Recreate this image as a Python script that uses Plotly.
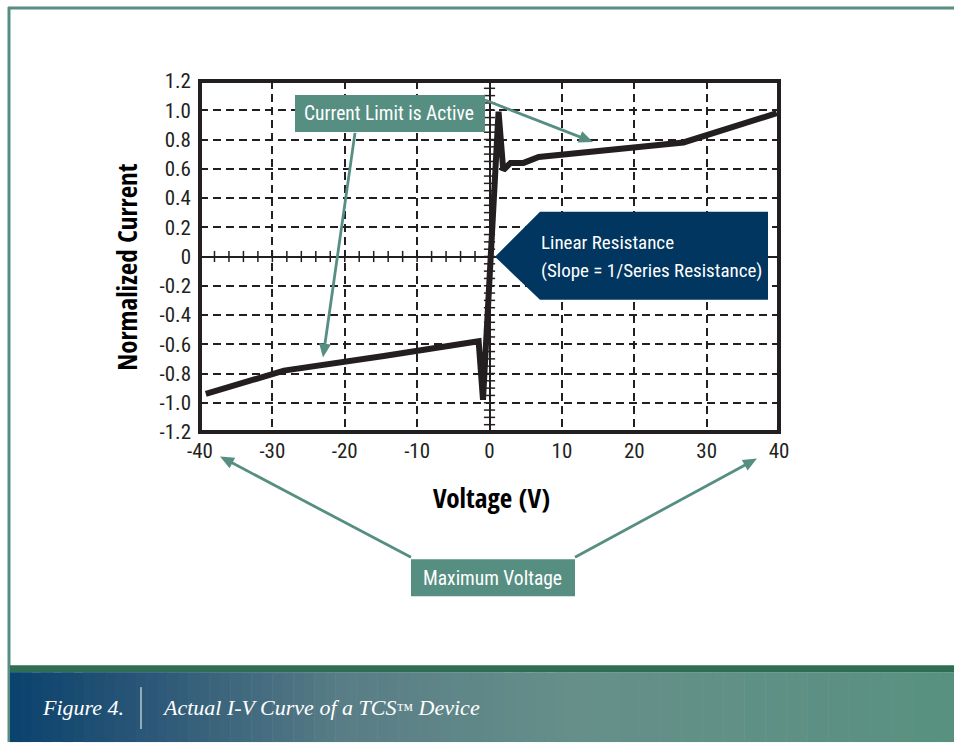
import math
import numpy as np
import plotly.graph_objects as go

# ---- data ----
voltage = [-39.2, -28.4, -14.6, -1.5, -0.9, 1.25, 1.9, 2.9, 4.7, 6.8, 26.8, 39.7]
current = [-0.94, -0.78, -0.68, -0.58, -0.98, 0.99, 0.59, 0.64, 0.64, 0.68, 0.78, 0.98]

x_ticks = [-40, -30, -20, -10, 0, 10, 20, 30, 40]
x_tick_text = ["-40", "-30", "-20", "-10", "0", "10", "20", "30", "40"]
y_ticks = [1.2, 1.0, 0.8, 0.6, 0.4, 0.2, 0, -0.2, -0.4, -0.6, -0.8, -1.0, -1.2]
y_tick_text = ["1.2", "1.0", "0.8", "0.6", "0.4", "0.2", "0", "-0.2", "-0.4", "-0.6", "-0.8", "-1.0", "-1.2"]

# ---- layout geometry (pixels) ----
W, H = 954, 743
L, R, T, B = 200, 779, 81, 432.5


def px(x):
    return (x - L) / (R - L)


def py(y):
    return (B - y) / (B - T)


INK = "#231f20"
TEAL = "#568f82"
NAVY = "#003660"
NARROW = "Roboto Condensed, Liberation Sans Narrow, DejaVu Sans Condensed, sans-serif"
BOLDC = "Open Sans Condensed, Roboto Condensed, sans-serif"
SERIF = "Liberation Serif, DejaVu Serif, serif"

fig = go.Figure()

# minor tick marks along the zero lines (axis decoration)
hx = np.arange(-40, 40.01, 2)
fig.add_trace(go.Scatter(x=hx, y=np.zeros_like(hx), mode="markers",
                         marker=dict(symbol="line-ns", size=8, color=INK, line=dict(width=1.5, color=INK)),
                         hoverinfo="skip", showlegend=False))
vy = np.arange(-1.2, 1.2001, 0.05)
fig.add_trace(go.Scatter(x=np.zeros_like(vy), y=vy, mode="markers",
                         marker=dict(symbol="line-ew", size=8, color=INK, line=dict(width=1.5, color=INK)),
                         hoverinfo="skip", showlegend=False))

# the I-V curve
fig.add_trace(go.Scatter(x=voltage, y=current, mode="lines",
                         line=dict(color=INK, width=6), showlegend=False, hoverinfo="skip"))

axis_common = dict(showline=False,
                   showgrid=True, gridcolor=INK, gridwidth=1.6, griddash="8px,5px",
                   zeroline=True, zerolinecolor=INK, zerolinewidth=2,
                   ticks="", tickfont=dict(family=NARROW, size=21, color=INK))

fig.update_xaxes(range=[-40, 40], tickvals=x_ticks, ticktext=x_tick_text, ticklabelstandoff=4, **axis_common)
fig.update_yaxes(range=[-1.2, 1.2], tickvals=y_ticks, ticktext=y_tick_text, ticklabelstandoff=8, **axis_common)

shapes = []
# plot border
shapes.append(dict(type="rect", xref="paper", yref="paper", x0=0, x1=1, y0=0, y1=1,
                   line=dict(color=INK, width=4)))
# outer frame lines
shapes.append(dict(type="line", xref="paper", yref="paper", x0=px(8), x1=px(954), y0=py(8), y1=py(8),
                   line=dict(color=TEAL, width=3)))
shapes.append(dict(type="line", xref="paper", yref="paper", x0=px(9), x1=px(9), y0=py(7), y1=py(743),
                   line=dict(color=TEAL, width=3)))
# footer: dark green band + gradient
shapes.append(dict(type="rect", xref="paper", yref="paper", x0=px(10), x1=px(954), y0=py(673), y1=py(666),
                   fillcolor="#2f6e55", line=dict(width=0)))
stops = [(0.0, (11, 67, 110)), (0.15, (45, 88, 120)), (0.35, (88, 125, 134)),
         (0.6, (102, 143, 138)), (1.0, (88, 145, 128))]


def grad(t):
    for (t0, c0), (t1, c1) in zip(stops[:-1], stops[1:]):
        if t0 <= t <= t1:
            f = (t - t0) / (t1 - t0)
            return "rgb(%d,%d,%d)" % tuple(round(a + (b - a) * f) for a, b in zip(c0, c1))
    return "rgb(%d,%d,%d)" % stops[-1][1]


n = 90
x_start, x_end = 10, 954
for i in range(n):
    a = x_start + (x_end - x_start) * i / n
    b = x_start + (x_end - x_start) * (i + 1) / n + 0.6
    shapes.append(dict(type="rect", xref="paper", yref="paper", x0=px(a), x1=px(b), y0=py(743), y1=py(673),
                       fillcolor=grad(i / (n - 1)), line=dict(width=0)))
# footer divider
shapes.append(dict(type="line", xref="paper", yref="paper", x0=px(141), x1=px(141), y0=py(688), y1=py(730),
                   line=dict(color="white", width=1)))
# callout boxes
shapes.append(dict(type="rect", xref="paper", yref="paper", x0=px(295), x1=px(485), y0=py(132), y1=py(95),
                   fillcolor=TEAL, line=dict(width=0)))
shapes.append(dict(type="rect", xref="paper", yref="paper", x0=px(411), x1=px(575), y0=py(597), y1=py(560),
                   fillcolor=TEAL, line=dict(width=0)))
# pentagon pointer
pts = [(495, 257), (540, 212), (768, 212), (768, 300), (540, 300)]
path = "M " + " L ".join("%f,%f" % (px(a), py(b)) for a, b in pts) + " Z"
shapes.append(dict(type="path", xref="paper", yref="paper", path=path, fillcolor=NAVY, line=dict(width=0)))


def arrow(sx, sy, tx, ty, head=14, half=6):
    d = math.hypot(tx - sx, ty - sy)
    ux, uy = (tx - sx) / d, (ty - sy) / d
    bx, by = tx - ux * head, ty - uy * head
    shapes.append(dict(type="line", xref="paper", yref="paper", x0=px(sx), y0=py(sy), x1=px(bx + ux * 2),
                       y1=py(by + uy * 2), line=dict(color=TEAL, width=2.8)))
    tri = [(tx, ty), (bx - uy * half, by + ux * half), (bx + uy * half, by - ux * half)]
    p = "M " + " L ".join("%f,%f" % (px(a), py(b)) for a, b in tri) + " Z"
    shapes.append(dict(type="path", xref="paper", yref="paper", path=p, fillcolor=TEAL, line=dict(width=0)))


arrow(355, 133, 323, 358)
arrow(485, 100, 593, 142)
arrow(411, 558, 220, 457)
arrow(575, 558, 757, 459)

annotations = []


def label(x, y, text, size=20, xanchor="center", family=NARROW, color="white", angle=0):
    annotations.append(dict(xref="paper", yref="paper", x=px(x), y=py(y), text=text, showarrow=False,
                            textangle=angle, font=dict(family=family, size=size, color=color),
                            xanchor=xanchor, yanchor="middle"))


label(389, 114, "Current Limit is Active", size=19.5)
label(493, 579, "Maximum Voltage", size=19.5)
label(539, 243, "Linear Resistance", size=19, xanchor="left")
label(539, 271, "(Slope = 1/Series Resistance)", size=19, xanchor="left")
# axis titles
label(127, 268, "<b>Normalized Current</b>", size=27, family=BOLDC, color="black", angle=-90)
label(491, 498, "<b>Voltage (V)</b>", size=27, family=BOLDC, color="black")
# footer texts
label(40, 708, "<i>Figure 4.</i>", size=22, xanchor="left", family=SERIF)
label(160, 708, "<i>Actual I-V Curve of a TCS<span style='font-size:17px'>™</span> Device</i>", size=22,
      xanchor="left", family=SERIF)

fig.update_layout(width=W, height=H, margin=dict(l=L, r=W - R, t=T, b=H - B, pad=0),
                  paper_bgcolor="white", plot_bgcolor="white",
                  shapes=shapes, annotations=annotations, showlegend=False)

fig.write_html("out.html", config={"displayModeBar": False},
               post_script="document.body.style.margin='0';document.body.style.overflow='hidden';")
